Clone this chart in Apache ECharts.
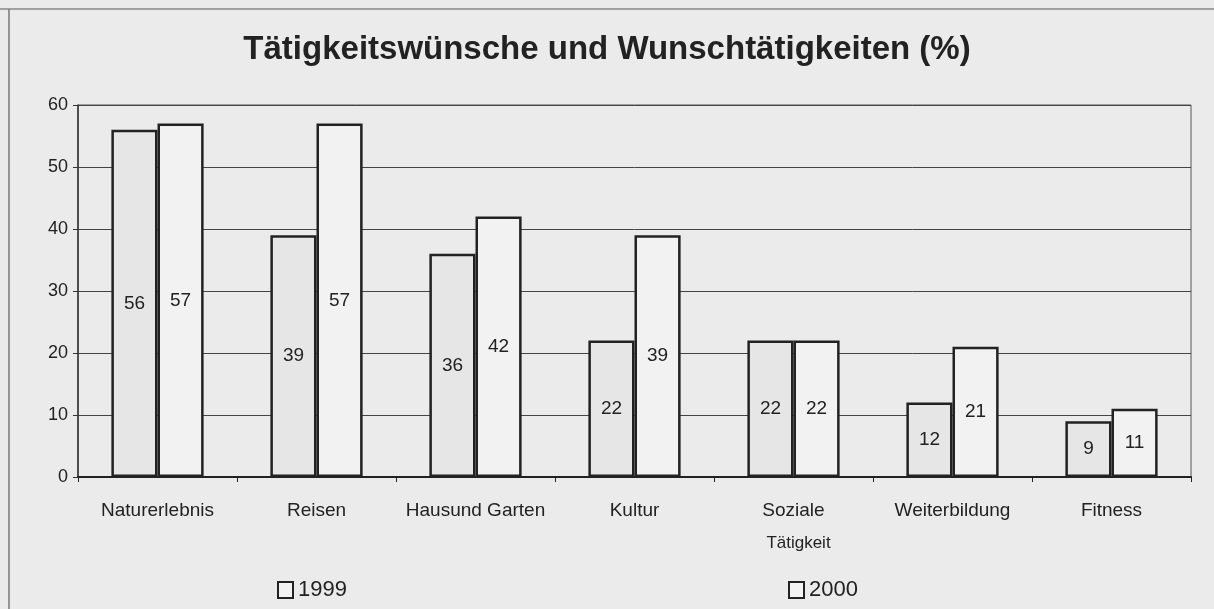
<!DOCTYPE html>
<html>
<head>
<meta charset="utf-8">
<script src="https://cdn.jsdelivr.net/npm/echarts@6/dist/echarts.min.js"></script>
<style>
  html, body { margin: 0; padding: 0; background: #ebebeb; }
  #chart { width: 1214px; height: 609px; }
</style>
</head>
<body>
<div id="chart"></div>
<script>
const categories = ['Naturerlebnis', 'Reisen', 'Hausund Garten', 'Kultur', 'Soziale', 'Weiterbildung', 'Fitness']
const values1999 = [56, 39, 36, 22, 22, 12, 9]
const values2000 = [57, 57, 42, 39, 22, 21, 11]
const yTicks = { min: 0, max: 60, interval: 10 }

const FONT = 'Liberation Sans, Arial, sans-serif'
const INK = '#222'

const chart = echarts.init(document.getElementById('chart'), null, { renderer: 'canvas' })

function barSeries(name, data, fill) {
  return {
    name,
    type: 'bar',
    data,
    barWidth: '29%',
    barGap: '0%',
    itemStyle: {
      color: fill,
      borderColor: INK,
      borderWidth: 2.5
    },
    label: {
      show: true,
      position: 'inside',
      color: INK,
      fontSize: 19,
      fontFamily: FONT
    },
    emphasis: { disabled: true }
  }
}

function legendFor(name, left) {
  return {
    data: [name],
    left,
    top: 574,
    itemWidth: 15,
    itemHeight: 16,
    itemGap: 4,
    icon: 'rect',
    itemStyle: { color: '#f2f2f2', borderColor: INK, borderWidth: 2 },
    textStyle: { color: INK, fontSize: 22, fontFamily: FONT }
  }
}

chart.setOption({
  backgroundColor: '#ebebeb',
  animation: false,
  textStyle: { fontFamily: FONT },
  title: {
    text: 'Tätigkeitswünsche und Wunschtätigkeiten (%)',
    left: 'center',
    top: 28,
    textStyle: { color: INK, fontSize: 33, fontWeight: 'bold', fontFamily: FONT }
  },
  legend: [legendFor('1999', 272), legendFor('2000', 783)],
  grid: {
    left: 78,
    right: 23,
    top: 105,
    bottom: 132,
    show: true,
    borderColor: '#555',
    borderWidth: 1
  },
  xAxis: {
    type: 'category',
    data: categories,
    name: 'Tätigkeit',
    nameLocation: 'middle',
    nameGap: 58,
    nameTextStyle: { color: INK, fontSize: 17, fontFamily: FONT, padding: [0, 0, 0, 328] },
    axisLine: { lineStyle: { color: INK, width: 2 } },
    axisTick: { show: true, length: 5, lineStyle: { color: INK } },
    axisLabel: { color: INK, fontSize: 19, margin: 24, interval: 0, fontFamily: FONT },
    splitLine: { show: false }
  },
  yAxis: {
    type: 'value',
    min: yTicks.min,
    max: yTicks.max,
    interval: yTicks.interval,
    axisLine: { show: true, lineStyle: { color: '#333', width: 1.5 } },
    axisTick: { show: true, length: 5, lineStyle: { color: '#333' } },
    axisLabel: { color: INK, fontSize: 18, margin: 10, fontFamily: FONT },
    splitLine: { lineStyle: { color: '#444', width: 1 } }
  },
  series: [
    barSeries('1999', values1999, '#e6e6e6'),
    barSeries('2000', values2000, '#f2f2f2')
  ],
  graphic: [
    { type: 'line', shape: { x1: 0, y1: 9, x2: 1214, y2: 9 }, style: { stroke: '#888', lineWidth: 1.5 } },
    { type: 'line', shape: { x1: 9, y1: 9, x2: 9, y2: 609 }, style: { stroke: '#777', lineWidth: 1.5 } }
  ]
})

window.addEventListener('resize', () => chart.resize())
</script>
</body>
</html>
